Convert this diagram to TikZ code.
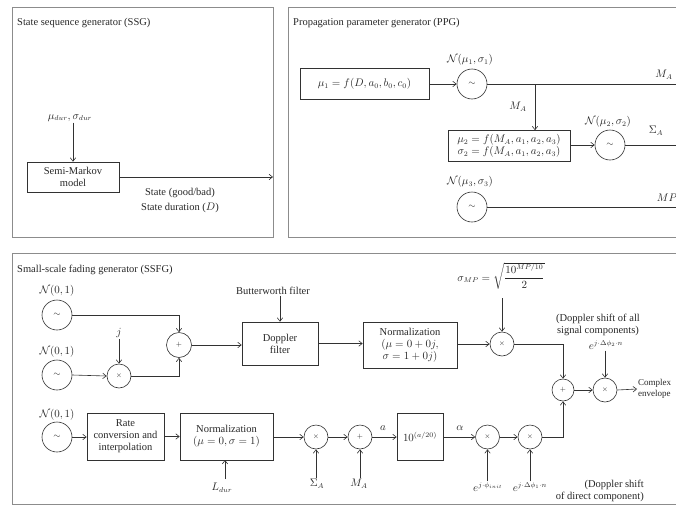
\documentclass[tikz,border=0pt]{standalone}
\usepackage{amsmath}
\usepackage{fontspec}
\setmainfont{Liberation Serif}
\usetikzlibrary{arrows.meta,calc}
\definecolor{lc}{RGB}{50,50,50}
\definecolor{tc}{RGB}{40,40,40}
\definecolor{pc}{RGB}{140,140,140}
\begin{document}
\begin{tikzpicture}[x=1pt,y=-1pt,
  every node/.style={font=\fontsize{10.5}{12}\selectfont, text=tc},
  ln/.style={line width=0.6pt, draw=lc},
  arr/.style={ln, -{Straight Barb[length=3.5pt,width=5.5pt]}},
  blk/.style={draw=lc, line width=0.6pt, align=center, inner sep=1pt},
  src/.style={circle, draw=lc, line width=0.6pt, minimum size=30pt, inner sep=0pt},
  op/.style={circle, draw=lc, line width=0.6pt, minimum size=24pt, inner sep=0pt},
  lbl/.style={inner sep=1pt, align=center},
  panel/.style={draw=pc, line width=1pt}]
\useasboundingbox (0,0) rectangle (676,506);
\clip (0,0) rectangle (676,506);
\fill[white] (0,0) rectangle (676,506);
% panels
\draw[panel] (12,7) rectangle (273,237);
\draw[panel] (288,7) rectangle (700,237);
\draw[panel] (12,253) rectangle (700,504);
% ---------------- SSG
\node[lbl, anchor=west] (tssg) at (16,23) {State sequence generator (SSG)};
\node[lbl] (mudur) at (70,118) {$\mu_{dur},\sigma_{dur}$};
\node[blk, minimum width=92pt, minimum height=30pt] (smm) at (73,177) {Semi-Markov\\model};
\draw[arr] (mudur.south -| smm.north) -- (smm.north);
\coordinate (ssgout) at (273,177);
\draw[arr] (smm.east) -- (ssgout);
\node[lbl] (st1) at (180,193) {State (good/bad)};
\node[lbl] (st2) at (180,208) {State duration ($D$)};
% ---------------- PPG
\node[lbl, anchor=west] (tppg) at (292,23) {Propagation parameter generator (PPG)};
\node[blk, minimum width=129pt, minimum height=31pt] (b1) at (364.5,84) {$\mu_1 = f(D, a_0, b_0, c_0)$};
\node[src] (s1) at (472,84) {\small$\sim$};
\node[lbl] (n1) at (470,60) {$\mathcal{N}(\mu_1,\sigma_1)$};
\draw[arr] (b1.east) -- (s1.west);
\coordinate (maend) at (690,84);
\draw[ln] (s1.east) -- (maend);
\node[lbl] (ma1) at (664,75) {$M_A$};
\coordinate (br) at (535,84);
\node[blk, minimum width=122pt, minimum height=31pt] (b2) at (509,146) {$\mu_2 = f(M_A, a_1, a_2, a_3)$\\$\sigma_2 = f(M_A, a_1, a_2, a_3)$};
\draw[arr] (br) -- (br |- b2.north);
\node[lbl] (ma2) at (518,107) {$M_A$};
\node[src] (s2) at (610,145) {\small$\sim$};
\node[lbl] (n2) at (608,122) {$\mathcal{N}(\mu_2,\sigma_2)$};
\draw[arr] (b2.east |- s2.west) -- (s2.west);
\coordinate (saend) at (690,145);
\draw[ln] (s2.east) -- (saend);
\node[lbl] (sa1) at (656,131) {$\Sigma_A$};
\node[src] (s3) at (472,207) {\small$\sim$};
\node[lbl] (n3) at (470,182) {$\mathcal{N}(\mu_3,\sigma_3)$};
\coordinate (mpend) at (690,207);
\draw[ln] (s3.east) -- (mpend);
\node[lbl] (mp1) at (667,198) {$MP$};
% ---------------- SSFG
\node[lbl, anchor=west] (tssfg) at (16,270) {Small-scale fading generator (SSFG)};
\node[src] (sA) at (57,315) {\small$\sim$};
\node[lbl] (nA) at (57,291) {$\mathcal{N}(0,1)$};
\node[src] (sB) at (57,375) {\small$\sim$};
\node[lbl] (nB) at (57,352) {$\mathcal{N}(0,1)$};
\node[op] (m1) at (119,376) {\scriptsize$\times$};
\node[lbl] (jl) at (119,333) {$j$};
\draw[arr] (jl.south) -- (m1.north);
\draw[arr] (sB.east) -- (m1.west);
\node[op, minimum size=25pt] (a1) at (179,345) {\scriptsize$+$};
\draw[arr] (sA.east) -| (a1.north);
\draw[arr] (m1.east) -| (a1.south);
\node[blk, minimum width=76pt, minimum height=43pt] (dop) at (280,343.5) {Doppler\\filter};
\draw[arr] (a1.east) -- (a1.east -| dop.west);
\node[lbl] (bw) at (273,291) {Butterworth filter};
\draw[arr] (bw.south -| dop.north) -- (dop.north);
\node[blk, minimum width=94pt, minimum height=46pt] (nrm) at (410,345) {Normalization\\$(\mu = 0 + 0j,$\\$\sigma = 1 + 0j)$};
\draw[arr] (dop.east) -- (dop.east -| nrm.west);
\node[op] (m2) at (502,344) {\scriptsize$\times$};
\draw[arr] (nrm.east |- m2.west) -- (m2.west);
\node[lbl] (smp) at (501,276) {$\sigma_{MP} = \sqrt{\dfrac{10^{MP/10}}{2}}$};
\draw[arr] (502,298) -- (m2.north);
\node[op, minimum size=22pt] (a2) at (563,390) {\scriptsize$+$};
\draw[arr] (m2.east) -| (a2.north);
\node[op] (m3) at (605,390) {\scriptsize$\times$};
\draw[arr] (a2.east) -- (m3.west);
\node[lbl] (dsall) at (598,325) {(Doppler shift of all\\signal components)};
\node[lbl] (ephi2) at (606,345) {$e^{j\cdot\Delta\phi_2\cdot n}$};
\draw[arr] (ephi2.south -| m3.north) -- (m3.north);
\node[lbl, anchor=west, align=left, font=\fontsize{9}{10.5}\selectfont] (cenv) at (637,389) {Complex\\envelope};
\draw[arr] (m3.east) -- (cenv.west);
% bottom row
\node[src] (sC) at (57,437) {\small$\sim$};
\node[lbl] (nC) at (57,415) {$\mathcal{N}(0,1)$};
\node[blk, minimum width=77pt, minimum height=47pt] (rate) at (125.5,436.5) {Rate\\conversion and\\interpolation};
\draw[arr] (sC.east) -- (rate.west |- sC.east);
\node[blk, minimum width=93pt, minimum height=47pt] (nrm2) at (226.5,436.5) {Normalization\\$(\mu = 0, \sigma = 1)$};
\draw[arr] (rate.east) -- (nrm2.west);
\node[lbl] (ldur) at (222,488) {$L_{dur}$};
\draw[arr] (225,479) -- (225,460);
\node[op] (m4) at (316,437) {\scriptsize$\times$};
\draw[arr] (nrm2.east |- m4.west) -- (m4.west);
\node[lbl] (sa2) at (317,484) {$\Sigma_A$};
\draw[arr] (sa2.north -| m4.south) -- (m4.south);
\node[op] (a3) at (360,437) {\scriptsize$+$};
\draw[arr] (m4.east) -- (a3.west);
\node[lbl] (ma3) at (359,484) {$M_A$};
\draw[arr] (ma3.north -| a3.south) -- (a3.south);
\node[blk, minimum width=46pt, minimum height=47pt] (expb) at (420,436.5) {$10^{(a/20)}$};
\draw[arr] (a3.east) -- (expb.west |- a3.east);
\node[lbl] (la) at (383,428) {$a$};
\node[op] (m5) at (487.5,437) {\scriptsize$\times$};
\draw[arr] (expb.east |- m5.west) -- (m5.west);
\node[lbl] (lal) at (460,428) {$\alpha$};
\node[lbl] (einit) at (488,487) {$e^{j\cdot\phi_{init}}$};
\draw[arr] (einit.north -| m5.south) -- (m5.south);
\node[op] (m6) at (530,437) {\scriptsize$\times$};
\draw[arr] (m5.east) -- (m6.west);
\node[lbl] (ephi1) at (530,487) {$e^{j\cdot\Delta\phi_1\cdot n}$};
\draw[arr] (ephi1.north -| m6.south) -- (m6.south);
\draw[arr] (m6.east) -| (a2.south);
\node[lbl, anchor=east, align=right] (dsdir) at (645,491) {(Doppler shift\\of direct component)};
\end{tikzpicture}
\end{document}
